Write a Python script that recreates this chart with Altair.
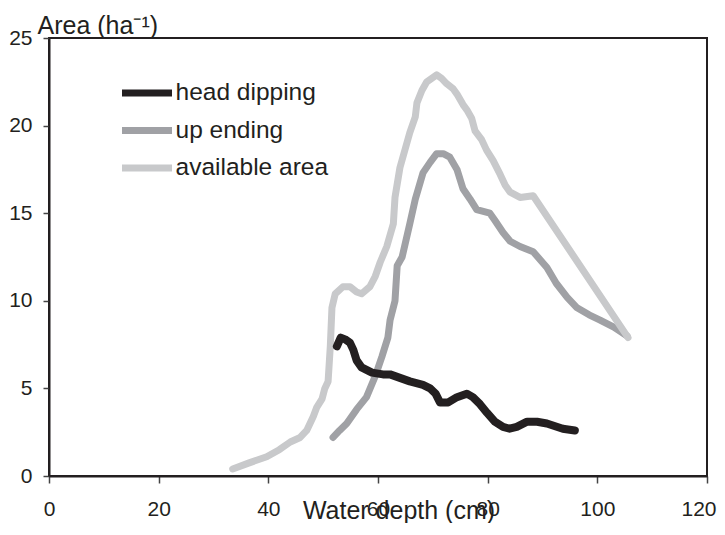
import altair as alt
import pandas as pd

# ---- data ----
depth_available = [33.5, 36.5, 39.7, 42.0, 44.0, 45.8, 47.0, 48.2, 48.8, 49.8, 50.3, 50.9,
                   51.3, 51.6, 52.2, 53.6, 54.9, 56.1, 57.0, 58.5, 59.5, 60.4, 61.6, 62.8,
                   63.1, 64.0, 64.9, 65.8, 66.8, 67.1, 68.0, 68.9, 70.7, 71.6, 72.5, 73.7,
                   74.4, 75.5, 76.2, 77.1, 77.7, 78.9, 79.8, 81.0, 82.3, 83.2, 84.1, 85.9,
                   88.3, 105.6]
area_available = [0.4, 0.75, 1.1, 1.5, 1.94, 2.2, 2.6, 3.4, 3.9, 4.4, 5.0, 5.4,
                  7.4, 9.6, 10.4, 10.8, 10.8, 10.5, 10.4, 10.8, 11.4, 12.2, 13.1, 14.4,
                  15.9, 17.6, 18.6, 19.6, 20.5, 21.3, 22.0, 22.5, 22.9, 22.7, 22.4, 22.1,
                  21.8, 21.2, 20.9, 20.4, 19.7, 19.2, 18.6, 18.0, 17.2, 16.6, 16.2, 15.9,
                  16.0, 7.9]

depth_upending = [51.8, 53.0, 54.3, 56.1, 57.9, 59.5, 60.7, 61.8, 62.2, 63.1, 63.5, 64.4,
                  65.8, 66.8, 68.2, 69.5, 70.7, 71.9, 73.1, 74.4, 75.5, 76.8, 78.0, 80.4,
                  81.3, 82.8, 84.1, 85.9, 88.3, 90.8, 92.5, 94.5, 96.3, 98.5, 100.5, 103.0,
                  105.4]
area_upending = [2.2, 2.6, 3.0, 3.8, 4.5, 5.7, 6.8, 7.9, 8.9, 10.0, 12.0, 12.5,
                 14.4, 15.8, 17.3, 17.9, 18.4, 18.4, 18.2, 17.5, 16.4, 15.8, 15.2, 15.0,
                 14.6, 13.9, 13.4, 13.1, 12.8, 11.9, 11.0, 10.2, 9.6, 9.2, 8.9, 8.5,
                 8.0]

depth_headdip = [52.5, 53.2, 54.0, 54.9, 55.5, 56.1, 57.0, 58.9, 60.9, 62.2, 64.0, 65.8,
                 68.2, 69.5, 70.5, 71.3, 72.8, 74.4, 76.2, 77.3, 78.6, 79.9, 81.3, 82.8,
                 84.0, 85.3, 87.2, 89.0, 90.8, 93.7, 95.9]
area_headdip = [7.4, 7.9, 7.8, 7.6, 7.2, 6.6, 6.2, 5.9, 5.8, 5.8, 5.6, 5.4,
                5.2, 5.0, 4.7, 4.2, 4.2, 4.5, 4.7, 4.5, 4.1, 3.6, 3.1, 2.8,
                2.7, 2.8, 3.1, 3.1, 3.0, 2.7, 2.6]

series_names = ["head dipping", "up ending", "available area"]
series_colors = ["#231f20", "#a0a1a5", "#c8c9cb"]
x_ticks = [0, 20, 40, 60, 80, 100, 120]
y_ticks = [0, 5, 10, 15, 20, 25]

frames = []
for name, xs, ys in [("head dipping", depth_headdip, area_headdip),
                     ("up ending", depth_upending, area_upending),
                     ("available area", depth_available, area_available)]:
    frames.append(pd.DataFrame({"depth": xs, "area": ys, "series": name,
                                "idx": range(len(xs))}))
df = pd.concat(frames, ignore_index=True)

FONT = "Liberation Sans"
INK = "#231f20"

last_tick = "datum.value === 120"
x_enc = alt.X("depth:Q",
              scale=alt.Scale(domain=[0, 120], nice=False, zero=False),
              axis=alt.Axis(values=x_ticks, title="Water depth (cm)", grid=False,
                            tickSize=7, labelPadding=15, labelFontSize=21,
                            labelAlign={"condition": {"test": last_tick, "value": "right"},
                                        "value": "center"},
                            labelOffset={"condition": {"test": last_tick, "value": 9},
                                         "value": 0},
                            titleFontSize=25, titleX=349.5, titleY=42,
                            titleAlign="center", titleBaseline="alphabetic"))
y_enc = alt.Y("area:Q",
              scale=alt.Scale(domain=[0, 25], nice=False),
              axis=alt.Axis(values=y_ticks, title="Area (ha⁻¹)", grid=False,
                            tickSize=6, labelPadding=11, labelFontSize=21,
                            titleFontSize=25, titleAngle=0, titleX=-12, titleY=-5,
                            titleAlign="left", titleBaseline="alphabetic"))
color_enc = alt.Color("series:N",
                      scale=alt.Scale(domain=series_names, range=series_colors),
                      legend=alt.Legend(title=None, orient="none", legendX=69.5, legendY=40))

base = alt.Chart(df)


def layer(name, width):
    return (base.transform_filter(alt.datum.series == name)
            .mark_line(strokeWidth=width, strokeCap="round", strokeJoin="round")
            .encode(x=x_enc, y=y_enc, color=color_enc, order="idx:Q"))


chart = alt.layer(
    layer("up ending", 7),
    layer("available area", 7),
    layer("head dipping", 8),
).properties(
    width=658, height=438,
    autosize=alt.AutoSizeParams(type="none"),
    padding={"left": 41, "top": 30, "right": 10, "bottom": 47},
).configure(
    font=FONT,
).configure_view(
    stroke=INK, strokeWidth=2,
).configure_axis(
    domainColor=INK, domainWidth=2, tickColor="#444444", tickWidth=1.5,
    labelColor=INK, titleColor=INK, labelFont=FONT, titleFont=FONT,
    titleFontWeight="normal",
).configure_legend(
    symbolType="stroke", symbolSize=2500, symbolStrokeWidth=7,
    clipHeight=30, rowPadding=7.5, labelFontSize=24.5, labelFont=FONT,
    labelColor=INK, labelOffset=0, padding=0, labelLimit=400,
)

chart.save("out.html", embed_options={"renderer": "svg", "actions": False})
